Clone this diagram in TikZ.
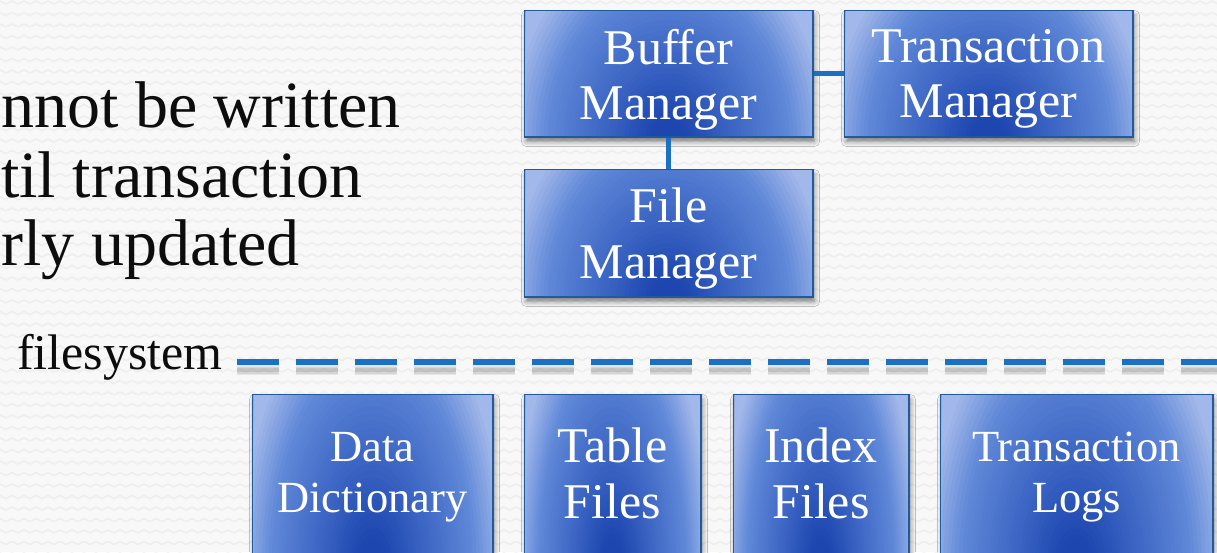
\documentclass[tikz,border=0pt]{standalone}
\usepackage{fontspec}
\setmainfont{Liberation Serif}
\usetikzlibrary{shadows.blur}

\definecolor{paper}{HTML}{F8F8F8}
\definecolor{wave}{HTML}{EEEEEE}
\definecolor{ink}{HTML}{0D0D0D}
\definecolor{bxdark}{HTML}{1D47AF}
\definecolor{bxmid}{HTML}{3F68C6}
\definecolor{bxsoft}{HTML}{5F88D8}
\definecolor{bxlight}{HTML}{A3B8EA}
\definecolor{bxedge}{HTML}{1F5A9E}
\definecolor{lnk}{HTML}{1B70C2}

\tikzset{
  box/.style={draw=bxedge, line width=2pt, inner sep=0pt, fill=bxlight,
    blur shadow={shadow xshift=2pt, shadow yshift=-5pt,
      shadow blur radius=5pt, shadow opacity=50}},
  boxtext/.style={text=white, align=center, inner sep=0pt, anchor=north},
  big/.style={font=\fontsize{50}{55}\selectfont},
  bigb/.style={font=\fontsize{50}{56}\selectfont},
  small/.style={font=\fontsize{44.5}{51}\selectfont},
  link/.style={draw=lnk, line width=5pt},
  fsline/.style={draw=lnk, line width=5.5pt, dash pattern=on 42pt off 17pt},
  fsshade/.style={draw=black, line width=#1, opacity=0.07,
    dash pattern=on 42pt off 17pt},
  note/.style={text=ink, inner sep=0pt, font=\fontsize{66}{69}\selectfont},
  bgwave/.style={draw=wave, line width=1.6pt, line join=round},
}

% a blue box: name, centre x, centre y, width, height.
% The fill is a soft elliptical glow, darkest just below the bottom edge.
\newcommand\glowbox[5]{%
  \node[box, minimum width=#4pt, minimum height=#5pt] (#1) at (#2,#3) {};
  \begin{scope}
    \clip ({#2-#4/2+1},{#3-#5/2+1}) rectangle ({#2+#4/2-1},{#3+#5/2-1});
    \foreach \i in {0,...,45} {
      \pgfmathsetmacro\t{1.15-\i/40}
      \ifdim\t pt>0.76pt
        \pgfmathsetmacro\p{min(100,(\t-0.76)/0.24*100)}
        \colorlet{glow}{bxlight!\p!bxsoft}
      \else\ifdim\t pt>0.44pt
        \pgfmathsetmacro\p{(\t-0.44)/0.32*100}
        \colorlet{glow}{bxsoft!\p!bxmid}
      \else\ifdim\t pt>0.12pt
        \pgfmathsetmacro\p{(\t-0.12)/0.32*100}
        \colorlet{glow}{bxmid!\p!bxdark}
      \else
        \colorlet{glow}{bxdark}
      \fi\fi\fi
      \fill[glow] ({#2},{#3+0.55*#5}) ellipse [x radius={\t*0.56*#4}, y radius={\t*1.7*#5}];
    }
  \end{scope}
}

\begin{document}
\begin{tikzpicture}[x=1pt, y=-1pt]
\useasboundingbox (0,0) rectangle (1217,552);
\clip (0,0) rectangle (1217,552);
\fill[paper] (0,0) rectangle (1217,552);

% faint zigzag texture of the slide background
\foreach \r in {0,...,48} {
  \draw[bgwave] (-6,{4+11.5*\r})
    \foreach \k in {0,...,102} { -- ++(6,-3) -- ++(6,3) };
}

% text on the left
\node[note, anchor=base west] (n1) at (1,127) {nnot be written};
\node[note, anchor=base west] (n2) at (1,197) {til transaction};
\node[note, anchor=base west] (n3) at (1,265) {rly updated};

% upper boxes
\glowbox{bm}{668.5}{73.5}{288}{126}
\glowbox{tm}{988.5}{73.5}{288}{126}
\glowbox{fm}{668.5}{233}{288}{127}

\draw[link] (bm.east) -- (tm.west);
\draw[link] (bm.south) -- (fm.north);

\node[boxtext, big]  (bmt) at (668.5,29)  {Buffer\\Manager};
\node[boxtext, big]  (tmt) at (988.5,29)  {Transaction\\Manager};
\node[boxtext, bigb] (fmt) at (668.5,188) {File\\Manager};

% filesystem boundary
\node[text=ink, inner sep=0pt, anchor=base west, font=\fontsize{50}{60}\selectfont]
  (fs) at (17,369) {filesystem};
\coordinate (fsL) at (237,362);
\coordinate (fsR) at (1240,362);
\foreach \w in {10pt,7pt,4pt}
  \draw[fsshade=\w] ([yshift=-8pt]fsL) -- ([yshift=-8pt]fsR);
\draw[fsline] (fsL) -- (fsR);

% stored files
\glowbox{dd}{372.5}{478}{240}{167}
\glowbox{tf}{612.5}{478}{176}{167}
\glowbox{ix}{821}{478}{175}{167}
\glowbox{tl}{1076.5}{478}{272}{167}

\node[boxtext, small] (ddt) at (372.5,432.5) {Data\\Dictionary};
\node[boxtext, bigb]  (tft) at (612.5,428)   {Table\\Files};
\node[boxtext, bigb]  (ixt) at (821,428)     {Index\\Files};
\node[boxtext, small] (tlt) at (1076.5,432)  {Transaction\\Logs};
\end{tikzpicture}
\end{document}
